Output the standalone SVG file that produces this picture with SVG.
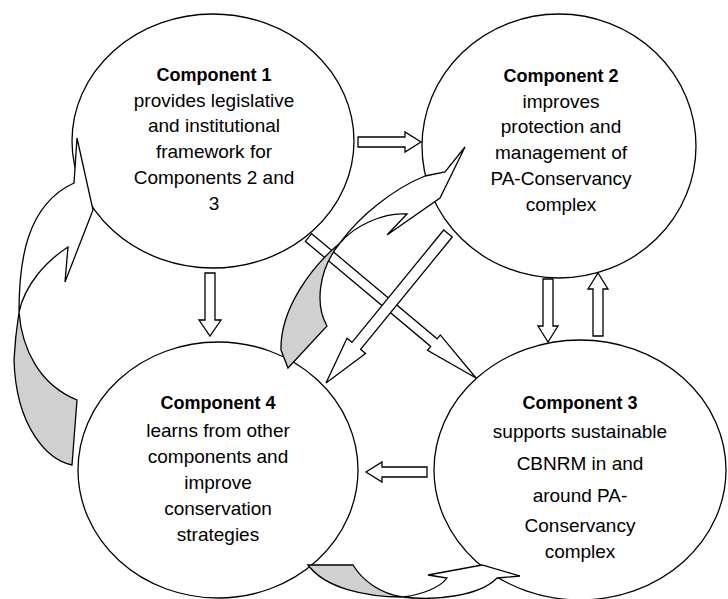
<svg xmlns="http://www.w3.org/2000/svg" width="728" height="599" viewBox="0 0 728 599">
<style>
.node ellipse{fill:#fff;stroke:#000;stroke-width:1.3}
.t{font-family:"Liberation Sans",Arial,sans-serif;font-size:19px;text-anchor:middle;fill:#000}
.b{font-weight:bold;font-size:18px}
.arr{fill:#fff;stroke:#000;stroke-width:1.3;stroke-linejoin:miter}
.sh{fill:#d0d0d0;stroke:#000;stroke-width:1.3}
</style>
<rect width="728" height="599" fill="#fff"/>
<g id="c1" class="node">
<ellipse cx="213" cy="141" rx="141" ry="127"/>
<text class="t b" x="214" y="81">Component 1</text>
<text class="t" x="214" y="107">provides legislative</text>
<text class="t" x="214" y="132">and institutional</text>
<text class="t" x="214" y="158">framework for</text>
<text class="t" x="214" y="184">Components 2 and</text>
<text class="t" x="214" y="210">3</text>
</g>
<g id="c2" class="node">
<ellipse cx="559" cy="146" rx="137" ry="132"/>
<text class="t b" x="561" y="82">Component 2</text>
<text class="t" x="561" y="108">improves</text>
<text class="t" x="561" y="133">protection and</text>
<text class="t" x="561" y="159">management of</text>
<text class="t" x="561" y="185">PA-Conservancy</text>
<text class="t" x="561" y="211">complex</text>
</g>
<g id="c4" class="node">
<ellipse cx="218" cy="470" rx="140" ry="128"/>
<text class="t b" x="218" y="409">Component 4</text>
<text class="t" x="218" y="437">learns from other</text>
<text class="t" x="218" y="463">components and</text>
<text class="t" x="218" y="489">improve</text>
<text class="t" x="218" y="515">conservation</text>
<text class="t" x="218" y="541">strategies</text>
</g>
<g id="c3" class="node">
<ellipse cx="580" cy="470" rx="146" ry="130"/>
<text class="t b" x="580" y="409">Component 3</text>
<text class="t" x="580" y="438">supports sustainable</text>
<text class="t" x="580" y="470">CBNRM in and</text>
<text class="t" x="580" y="502">around PA-</text>
<text class="t" x="580" y="532">Conservancy</text>
<text class="t" x="580" y="558">complex</text>
</g>
<g id="connectors">
<polygon class="arr" points="358,137 405,137 405,132 421,142 405,152 405,147 358,147"/>
<polygon class="arr" points="205,273 215,273 215,320 221,320 210,336 199,320 205,320"/>
<polygon class="arr" points="543,279 553,279 553,326 558,326 548,342 538,326 543,326"/>
<polygon class="arr" points="593,336 603,336 603,289 608,289 598,273 588,289 593,289"/>
<polygon class="arr" points="427,467 427,477 382,477 382,482 366,472 382,462 382,467"/>
<polygon class="arr" points="311.7,233.7 437.1,338.8 440.3,334.9 476,378 427.5,350.3 430.7,346.4 305.3,241.3"/>
<path class="sh" d="M19,312 C22,350 40,385 77,400 L72,465 C48,460 16,428 14,360 C15,340 17,325 19,312 Z"/>
<path class="arr" d="M19,312 C19,262 26,205 74,183 L77,138 L93,210 L65,282 L68,247 C45,262 25,285 19,312 Z"/>
<path class="sh" d="M340,243 C310,268 280,310 281,350 L288,368 L327,326 C315,305 318,270 340,243 Z"/>
<path class="arr" d="M340,243 C360,215 395,188 425,176 L445,172 L465,147 L440,198 L387,235 L407,214 C385,212 355,225 340,243 Z"/>
<polygon class="arr" points="443.7,230 452.3,237 360.6,349.3 365.6,353.4 326,383 347,338.2 352,342.3"/>
<path class="sh" d="M308,565 L353,565 C362,580 380,594 403,597 C365,597 325,588 308,565 Z"/>
<path class="arr" d="M403,597 C435,601 480,596 497,578 L520,576 L482,565 L428,575 L447,578 C440,588 420,595 403,597 Z"/>
</g>
</svg>
